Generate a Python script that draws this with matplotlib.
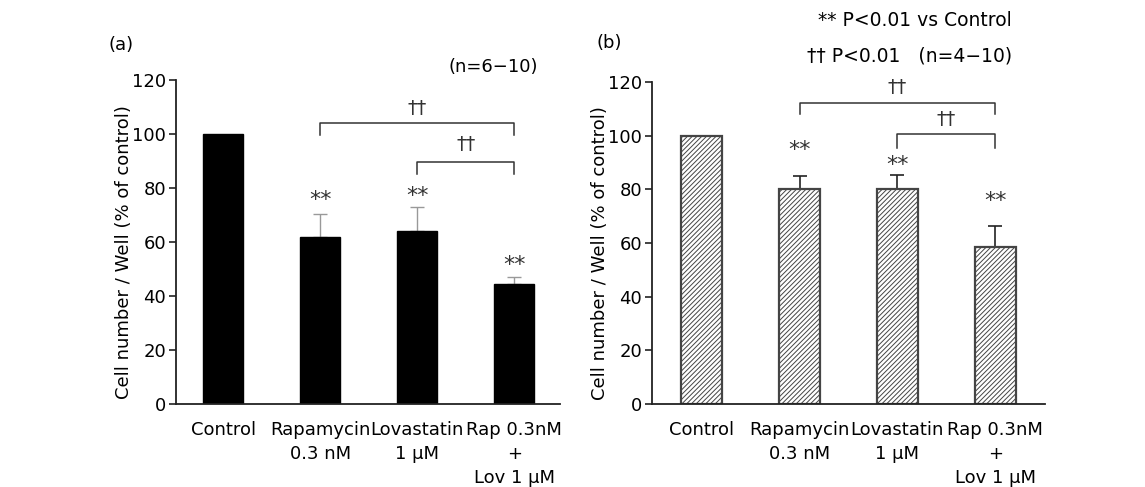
import matplotlib
matplotlib.use("Agg")
import matplotlib.pyplot as plt
import numpy as np

# Data
categories = ["Control", "Rapamycin\n0.3 nM", "Lovastatin\n1 \u03bcM", "Rap 0.3nM\n+\nLov 1 \u03bcM"]

# panel (a)
values_a = [100, 62, 64, 44.5]
err_a = [0, 8.5, 9, 2.5]
stars_y_a = [None, 75.5, 77, 51.5]
# panel (b)
values_b = [100, 80, 80, 58.5]
err_b = [0, 5, 5.5, 8]
stars_y_b = [None, 94.5, 89, 75.5]

# significance brackets: (x from, x to, bar height, leg bottom, label height)
brackets_a = [(1, 3, 104, 99.5, 109.5), (2, 3, 89.5, 85, 96)]
brackets_b = [(1, 3, 112, 108, 118), (2, 3, 100.5, 95.5, 106)]

plt.rcParams['font.family'] = ['DejaVu Sans', 'Noto Sans CJK JP']
plt.rcParams['hatch.linewidth'] = 0.7
FS = 13
dark = '#222222'

fig = plt.figure(figsize=(11.45, 4.87), dpi=100)
ax_a = fig.add_axes([176/1145, 83/487, 384/1145, 324/487])
ax_b = fig.add_axes([652/1145, 83/487, 393/1145, 322/487])


def style_axis(ax, xlim):
    x = np.arange(len(categories))
    ax.set_xlim(*xlim)
    ax.set_ylim(0, 120)
    ax.set_yticks(np.arange(0, 121, 20))
    ax.set_xticks(x)
    ax.set_xticklabels(categories, fontsize=FS, linespacing=1.45)
    ax.tick_params(axis='x', length=0, pad=12)
    ax.tick_params(axis='y', direction='out', length=5, width=1.2, pad=2,
                   labelsize=FS, color=dark)
    for s in ['top', 'right']:
        ax.spines[s].set_visible(False)
    for s in ['left', 'bottom']:
        ax.spines[s].set_linewidth(1.3)
        ax.spines[s].set_color(dark)
    ax.set_ylabel("Cell number / Well (% of control)", fontsize=13)


def add_marks(ax, stars_y, brackets):
    for i, sy in enumerate(stars_y):
        if sy is not None:
            ax.text(i, sy, "**", ha='center', va='center', fontsize=16, color='#333333')
    for x0, x1, yb, yl, yt in brackets:
        ax.plot([x0, x0, x1, x1], [yl, yb, yb, yl], color='#333333', lw=1.1,
                clip_on=False)
        ax.text((x0 + x1) / 2, yt, "\u2020\u2020", ha='center', va='center',
                fontsize=14, color='#333333')


x = np.arange(len(categories))

# (a) solid black bars
ax_a.bar(x, values_a, width=0.41, color='black', edgecolor='black', zorder=2)
ax_a.errorbar(x[1:], values_a[1:], yerr=[np.zeros(3), err_a[1:]], fmt='none',
              ecolor='#999999', elinewidth=1, capsize=5, capthick=1, zorder=1)
style_axis(ax_a, (-0.485, 3.47))
ax_a.yaxis.set_label_coords(-0.138 + 0.026, 0.47)
add_marks(ax_a, stars_y_a, brackets_a)

# (b) hatched bars
ax_b.bar(x, values_b, width=0.42, color='white', edgecolor='#444444',
         hatch='///////', linewidth=1.6, zorder=2)
ax_b.errorbar(x[1:], values_b[1:], yerr=[np.zeros(3), err_b[1:]], fmt='none',
              ecolor=dark, elinewidth=1.2, capsize=5, capthick=1.2, zorder=1)
style_axis(ax_b, (-0.51, 3.51))
ax_b.yaxis.set_label_coords(-0.135 + 0.026, 0.47)
add_marks(ax_b, stars_y_b, brackets_b)

# panel labels and notes
fig.text(108/1145, 1 - 45/487, "(a)", fontsize=FS, ha='left', va='center')
fig.text(597/1145, 1 - 43/487, "(b)", fontsize=FS, ha='left', va='center')
fig.text(538/1145, 1 - 67/487, "(n=6\u221210)", fontsize=FS,
         ha='right', va='center')
fig.text(1012/1145, 1 - 21/487, "** P<0.01 vs Control", fontsize=13.5,
         ha='right', va='center')
fig.text(1012/1145, 1 - 56/487, "\u2020\u2020 P<0.01   (n=4\u221210)",
         fontsize=13.5, ha='right', va='center')

fig.savefig("out.png", dpi=100)
